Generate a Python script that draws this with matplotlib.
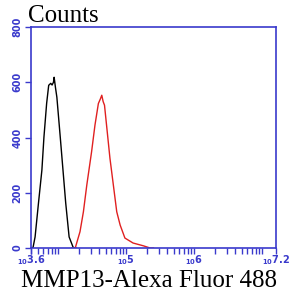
import matplotlib
matplotlib.use("Agg")
import matplotlib.pyplot as plt
import numpy as np

# Control (black) histogram: log10 intensity, counts
black_log = [3.60, 3.63, 3.66, 3.71, 3.76, 3.79, 3.83, 3.86, 3.89, 3.91, 3.93, 3.94, 3.96, 3.98, 4.03, 4.07, 4.11, 4.16, 4.22, 4.26]
black_cnt = [0, 2, 40, 163, 282, 401, 524, 589, 596, 590, 600, 618, 580, 546, 401, 282, 163, 40, 2, 0]

# MMP13 (red) histogram
red_log = [4.20, 4.25, 4.32, 4.37, 4.42, 4.49, 4.54, 4.59, 4.62, 4.64, 4.66, 4.68, 4.71, 4.76, 4.81, 4.86, 4.91, 4.98, 5.10, 5.25, 5.35, 5.40]
red_cnt = [0, 0, 59, 131, 228, 348, 445, 523, 540, 553, 530, 517, 445, 325, 228, 131, 83, 36, 18, 8, 0, 0]

y_ticks = [0, 200, 400, 600, 800]
x_tick_exp = ["3.6", "5", "6", "7.2"]

blue = "#3a3acc"

fig = plt.figure(figsize=(2.93, 2.94), dpi=100)
ax = fig.add_axes([31/293, 1-248/294, (276-31)/293, (248-27)/294])

ax.plot(10**np.array(black_log), black_cnt, color="black", lw=1.0)
ax.plot(10**np.array(red_log), red_cnt, color="#e02020", lw=1.0)

ax.set_xscale("log")
ax.set_xlim(10**3.6, 10**7.2)
ax.set_ylim(0, 800)

for s in ax.spines.values():
    s.set_color(blue)
    s.set_linewidth(1.2)

ax.set_yticks(y_ticks)
ax.set_yticklabels([str(v) for v in y_ticks], rotation=90, va="center",
                   color=blue, fontsize=7, fontweight="bold")
ax.tick_params(axis="y", colors=blue, length=4, width=1, pad=2)

xt = [10**float(e) for e in x_tick_exp]
ax.set_xticks(xt)
ax.set_xticklabels([r"$_{\mathbf{10}}$" + e for e in x_tick_exp], color=blue,
                   fontsize=7, fontweight="bold")
ax.xaxis.set_minor_locator(matplotlib.ticker.LogLocator(base=10, subs=np.arange(1, 10)))
ax.xaxis.set_minor_formatter(matplotlib.ticker.NullFormatter())
ax.tick_params(axis="x", which="both", colors=blue, length=4, width=1, pad=0)

fig.text(28/293, 1-16/294, "Counts", fontsize=18, family="Liberation Serif",
         va="center", ha="left", color="black")
fig.text(149/293, 1-281/294, "MMP13-Alexa Fluor 488", fontsize=18,
         family="Liberation Serif", va="center", ha="center", color="black")

fig.savefig("out.png", dpi=100)
